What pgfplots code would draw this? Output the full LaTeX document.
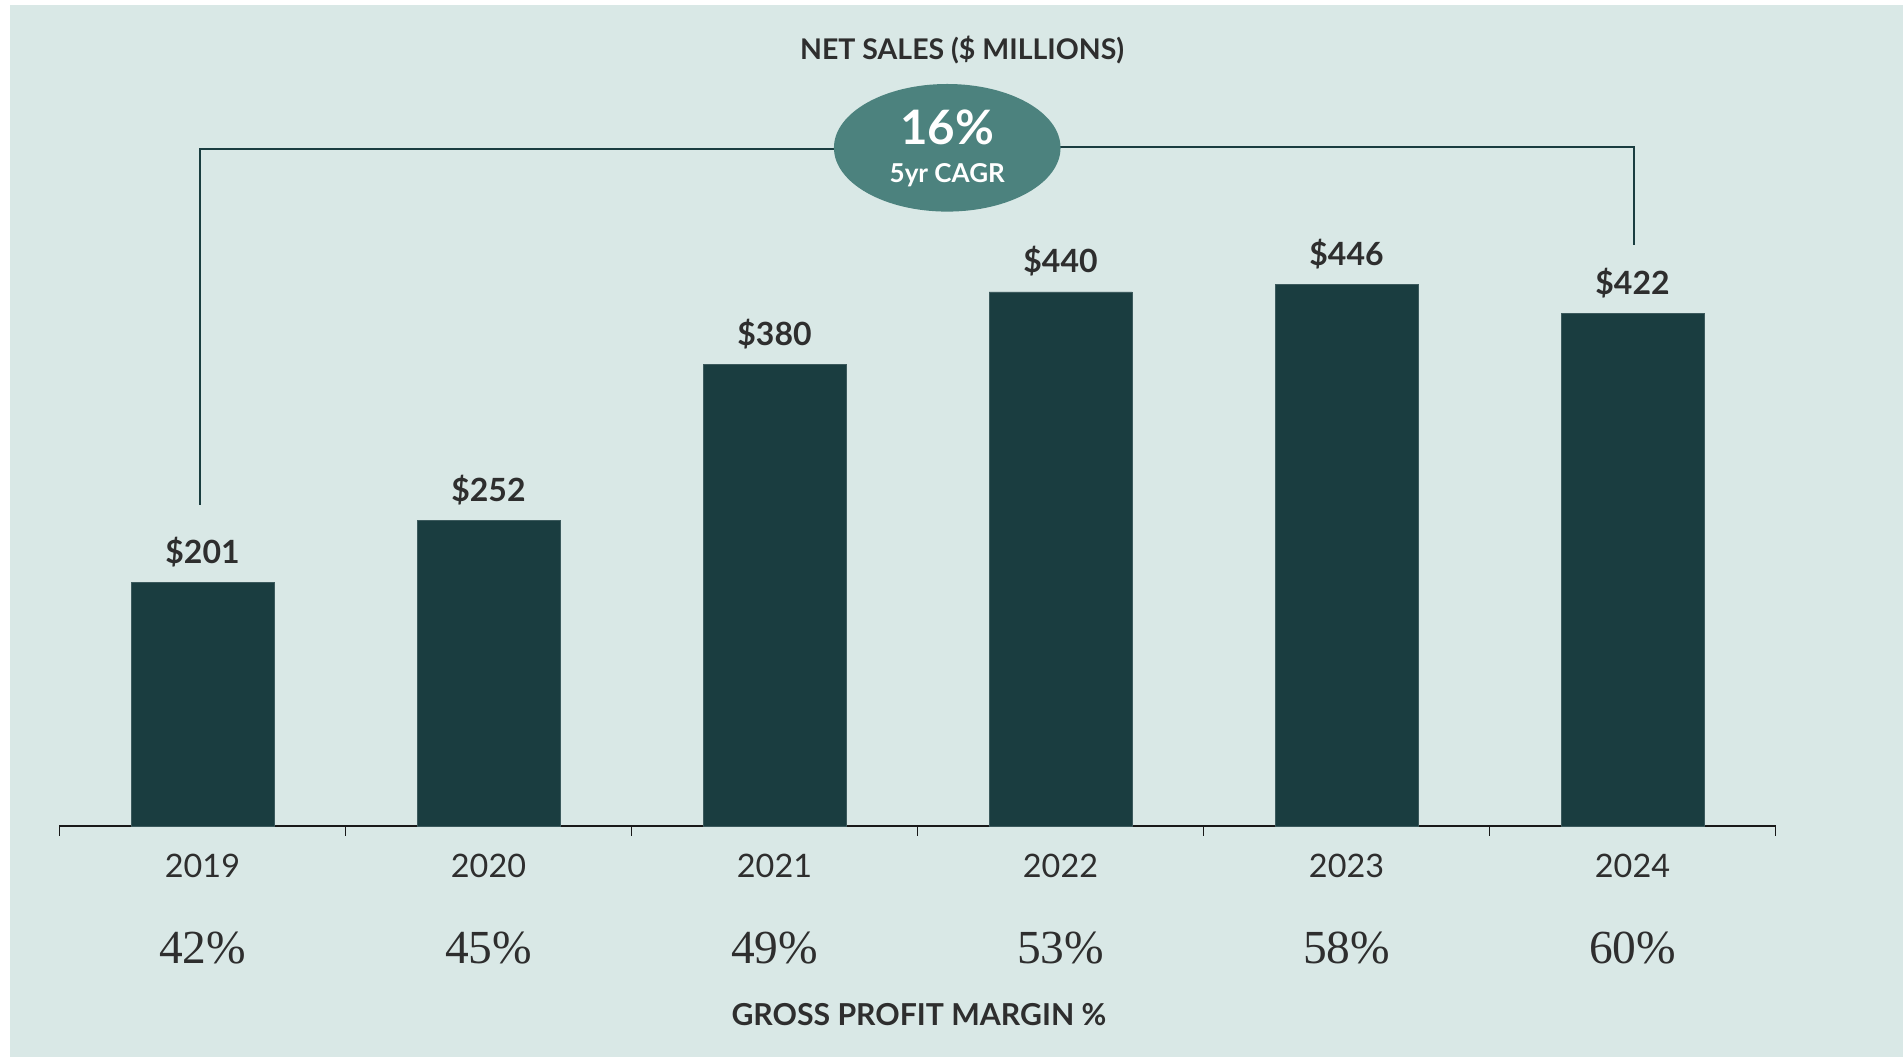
\documentclass[border=0pt]{standalone}
\usepackage{fontspec}
\setmainfont{Lato}
\newfontfamily\pctfont{Liberation Serif}
\usepackage{pgfplots}
\pgfplotsset{compat=1.18}
\definecolor{bgc}{HTML}{D9E8E6}
\definecolor{barc}{HTML}{1A3D40}
\definecolor{ellc}{HTML}{4C827E}
\definecolor{txtc}{HTML}{2E2E2E}
\tikzset{pctnode/.style={anchor=base, inner sep=0pt, text=txtc, font=\pctfont\fontsize{13.5}{15}\selectfont}}
\begin{document}
\begin{tikzpicture}
\path[use as bounding box] (-5.95mm,-23.1mm) rectangle (184.35mm,82.6mm);
\fill[bgc] (-4.95mm,-23.2mm) rectangle (184.45mm,82.1mm);
\begin{axis}[
  scale only axis,
  width=171.6mm, height=72.82mm,
  xmin=-0.5, xmax=5.5, ymin=0, ymax=600,
  enlargelimits=false,
  clip=false,
  axis x line=bottom, axis y line=none,
  axis line style={-, line width=0.25mm, black!90},
  xtick={-0.5,0.5,1.5,2.5,3.5,4.5,5.5},
  xticklabels={},
  tick align=outside,
  major tick length=1mm,
  every tick/.style={black!90, line width=0.15mm},
  extra x ticks={0,1,2,3,4,5},
  extra x tick labels={2019,2020,2021,2022,2023,2024},
  extra x tick style={major tick length=0pt,
     tick label style={anchor=base, yshift=-5.2mm, inner sep=0pt,
       font=\fontsize{9.2}{11}\selectfont, text=txtc}},
  ytick=\empty,
  /pgf/number format/assume math mode=true,
]
\addplot[ybar, bar width=0.5, fill=barc, draw=barc!85!white, line width=0.2pt,
  nodes near coords={\$\pgfmathprintnumber[assume math mode=true]{\pgfplotspointmeta}},
  every node near coord/.append style={anchor=base, yshift=1.9mm, inner sep=0pt,
     font=\bfseries\fontsize{9.1}{11}\selectfont, text=txtc}]
  coordinates {(0,201) (1,252) (2,380) (3,440) (4,446) (5,422)};

% bracket
\draw[barc, line width=0.2mm] (axis cs:-0.01,264.5) -- (axis cs:-0.01,557.5) -- (axis cs:2.6,557.5);
\draw[barc, line width=0.2mm] (axis cs:2.6,559.5) -- (axis cs:5.004,559.5) -- (axis cs:5.004,478.7);
\fill[ellc] (axis cs:2.604,558.8) ellipse [x radius=11.33mm, y radius=6.38mm];
\node[anchor=base, inner sep=0pt, text=white, font=\bfseries\fontsize{13.5}{15}\selectfont] at (axis cs:2.604,561.1) {16\%};
\node[anchor=base, inner sep=0pt, text=white, font=\bfseries\fontsize{7.4}{9}\selectfont] at (axis cs:2.604,530.1) {5yr CAGR};

% titles
\node[anchor=base, inner sep=0pt, text=txtc, font=\bfseries\fontsize{8.1}{10}\selectfont] at (axis cs:2.656,631.7) {NET SALES (\$ MILLIONS)};
\node[anchor=base, inner sep=0pt, text=txtc, font=\bfseries\fontsize{8.6}{10}\selectfont] at (axis cs:2.505,-164) {GROSS PROFIT MARGIN \%};

% gross margins
\node[pctnode] at (axis cs:0,-112.9) {42\%};
\node[pctnode] at (axis cs:1,-112.9) {45\%};
\node[pctnode] at (axis cs:2,-112.9) {49\%};
\node[pctnode] at (axis cs:3,-112.9) {53\%};
\node[pctnode] at (axis cs:4,-112.9) {58\%};
\node[pctnode] at (axis cs:5,-112.9) {60\%};
\end{axis}
\end{tikzpicture}
\end{document}
